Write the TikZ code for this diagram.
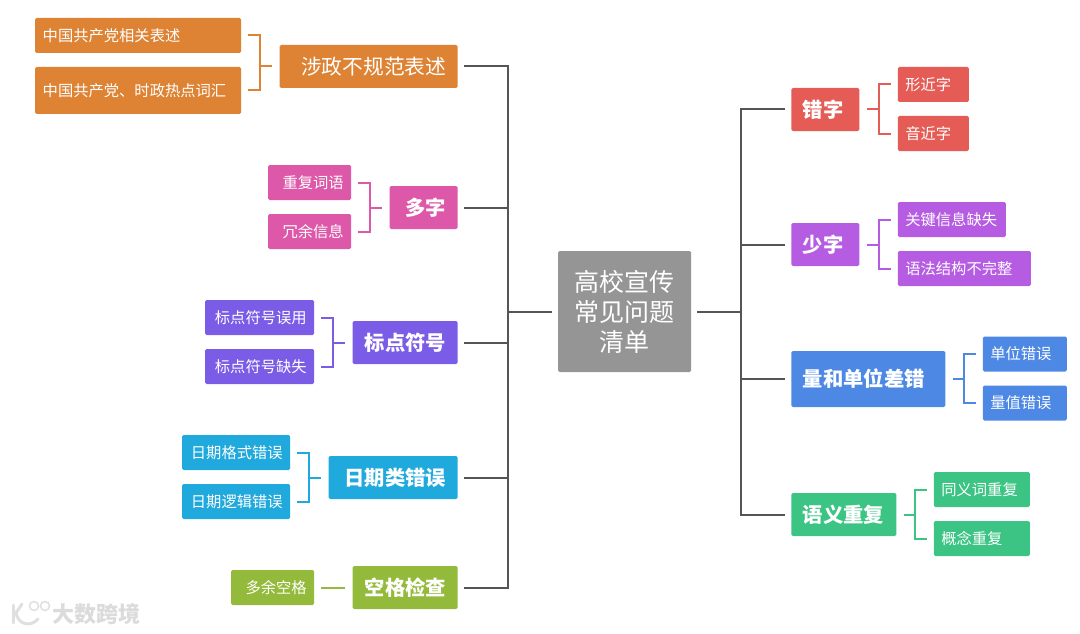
\documentclass[tikz,border=0pt]{standalone}
\usepackage{xcolor}
\usepackage{fontspec}
\setmainfont{Noto Sans CJK SC}
\definecolor{rootcolor}{RGB}{149, 149, 149}
\definecolor{linecolor}{RGB}{85, 85, 85}
\definecolor{orangecolor}{RGB}{221, 131, 51}
\definecolor{pinkcolor}{RGB}{221, 88, 168}
\definecolor{violetcolor}{RGB}{122, 92, 230}
\definecolor{skycolor}{RGB}{31, 169, 220}
\definecolor{greencolor}{RGB}{147, 186, 58}
\definecolor{redcolor}{RGB}{229, 91, 85}
\definecolor{purplecolor}{RGB}{182, 92, 227}
\definecolor{bluecolor}{RGB}{76, 136, 228}
\definecolor{tealcolor}{RGB}{60, 196, 132}
\usetikzlibrary{positioning, calc}

\begin{document}
\begin{tikzpicture}[
    node distance=38pt,
    box/.style={rectangle, rounded corners=1.5pt, text=white, inner ysep=0pt},
    rootbox/.style={box, fill=rootcolor, minimum width=133pt, minimum height=121pt, align=center,
        font=\fontsize{25}{30}\selectfont},
    lmain/.style={box, align=right, inner xsep=11.5pt, text width=#1-23pt, minimum height=43pt,
        font=\fontsize{20.3}{24}\selectfont\bfseries},
    rmain/.style={box, align=left, inner xsep=11.5pt, text width=#1-23pt, minimum height=43pt,
        font=\fontsize{20.3}{24}\selectfont\bfseries},
    lsub/.style={box, align=right, inner xsep=7.5pt, text width=#1-15pt, minimum height=35pt,
        font=\fontsize{15.3}{18}\selectfont},
    rsub/.style={box, align=left, inner xsep=7.5pt, text width=#1-15pt, minimum height=35pt,
        font=\fontsize{15.3}{18}\selectfont},
    link/.style={line width=2pt, draw=linecolor, shorten <=6pt, shorten >=6pt},
    bracket/.style={line width=2pt, shorten <=7pt, shorten >=7pt,
        to path={-| ($(\tikztostart)!.5!(\tikztotarget)$) |- (\tikztotarget)}}
]
    \useasboundingbox (0,0) rectangle (1080pt,-634pt);

    % Root node
    \node[rootbox] (root) at (624.5pt,-311.5pt) {高校宣传\\常见问题\\清单};

    % Left branches
    \node[lmain=178pt, fill=orangecolor, left=100pt of root, yshift=245pt,
          font=\fontsize{20.7}{24}\selectfont] (shezheng) {涉政不规范表述};
    \node[lmain=68pt, fill=pinkcolor, left=100pt of root, yshift=104pt] (duozi) {多字};
    \node[lmain=105pt, fill=violetcolor, left=100pt of root, yshift=-31pt] (biaodian) {标点符号};
    \node[lmain=129pt, fill=skycolor, left=100pt of root, yshift=-166pt] (riqi) {日期类错误};
    \node[lmain=105pt, fill=greencolor, left=100pt of root, yshift=-276pt] (kongge) {空格检查};

    % Right branches
    \node[rmain=68pt, fill=redcolor, right=100pt of root, yshift=202pt] (cuozi) {错字};
    \node[rmain=68pt, fill=purplecolor, right=100pt of root, yshift=67pt] (shaozi) {少字};
    \node[rmain=154pt, fill=bluecolor, minimum height=56pt, right=100pt of root, yshift=-67.5pt] (liang) {量和单位差错};
    \node[rmain=105pt, fill=tealcolor, right=100pt of root, yshift=-203pt] (yuyi) {语义重复};

    % Left leaves
    \node[lsub=206pt, fill=orangecolor, align=left, left=of shezheng, yshift=31pt] (shezheng1) {中国共产党相关表述};
    \node[lsub=206pt, fill=orangecolor, align=left, minimum height=47pt, left=of shezheng, yshift=-24pt] (shezheng2) {中国共产党、时政热点词汇};
    \node[lsub=83pt, fill=pinkcolor, left=of duozi, yshift=25pt] (duozi1) {重复词语};
    \node[lsub=83pt, fill=pinkcolor, left=of duozi, yshift=-24pt] (duozi2) {冗余信息};
    \node[lsub=109pt, fill=violetcolor, left=of biaodian, yshift=25pt] (biaodian1) {标点符号误用};
    \node[lsub=109pt, fill=violetcolor, left=of biaodian, yshift=-24pt] (biaodian2) {标点符号缺失};
    \node[lsub=108pt, fill=skycolor, left=of riqi, yshift=25pt] (riqi1) {日期格式错误};
    \node[lsub=108pt, fill=skycolor, left=of riqi, yshift=-24pt] (riqi2) {日期逻辑错误};
    \node[lsub=83pt, fill=greencolor, left=of kongge] (kongge1) {多余空格};

    % Right leaves
    \node[rsub=71pt, fill=redcolor, right=of cuozi, yshift=25pt] (cuozi1) {形近字};
    \node[rsub=71pt, fill=redcolor, right=of cuozi, yshift=-24pt] (cuozi2) {音近字};
    \node[rsub=108pt, fill=purplecolor, right=of shaozi, yshift=25pt] (shaozi1) {关键信息缺失};
    \node[rsub=133pt, fill=purplecolor, right=of shaozi, yshift=-24pt] (shaozi2) {语法结构不完整};
    \node[rsub=84pt, fill=bluecolor, right=37pt of liang, yshift=25pt] (liang1) {单位错误};
    \node[rsub=84pt, fill=bluecolor, right=37pt of liang, yshift=-24pt] (liang2) {量值错误};
    \node[rsub=96pt, fill=tealcolor, right=37pt of yuyi, yshift=25pt] (yuyi1) {同义词重复};
    \node[rsub=96pt, fill=tealcolor, right=37pt of yuyi, yshift=-24pt] (yuyi2) {概念重复};

    % Trunks
    \coordinate (lbus) at (508pt,0);
    \coordinate (rbus) at (741pt,0);
    \foreach \n in {shezheng, duozi, biaodian, riqi, kongge}
        \draw[link] (\n.east) -- (\n.east -| lbus) -- (lbus |- root.west) -- (root.west);
    \foreach \n in {cuozi, shaozi, liang, yuyi}
        \draw[link] (\n.west) -- (\n.west -| rbus) -- (rbus |- root.east) -- (root.east);

    % Brackets
    \draw[bracket, orangecolor] (shezheng1.east) to (shezheng.west);
    \draw[bracket, orangecolor] (shezheng2.east) to (shezheng.west);
    \draw[bracket, pinkcolor] (duozi1.east) to (duozi.west);
    \draw[bracket, pinkcolor] (duozi2.east) to (duozi.west);
    \draw[bracket, violetcolor] (biaodian1.east) to (biaodian.west);
    \draw[bracket, violetcolor] (biaodian2.east) to (biaodian.west);
    \draw[bracket, skycolor] (riqi1.east) to (riqi.west);
    \draw[bracket, skycolor] (riqi2.east) to (riqi.west);
    \draw[bracket, greencolor] (kongge1.east) to (kongge.west);
    \draw[bracket, redcolor] (cuozi1.west) to (cuozi.east);
    \draw[bracket, redcolor] (cuozi2.west) to (cuozi.east);
    \draw[bracket, purplecolor] (shaozi1.west) to (shaozi.east);
    \draw[bracket, purplecolor] (shaozi2.west) to (shaozi.east);
    \draw[bracket, bluecolor] (liang1.west) to (liang.east);
    \draw[bracket, bluecolor] (liang2.west) to (liang.east);
    \draw[bracket, tealcolor] (yuyi1.west) to (yuyi.east);
    \draw[bracket, tealcolor] (yuyi2.west) to (yuyi.east);

    % Watermark
    \node[gray!28, font=\fontsize{22}{24}\selectfont\bfseries, anchor=west, inner sep=0pt] (mark) at (52pt,-614pt) {大数跨境};
    \draw[gray!25, line width=3pt, line cap=round] (13pt,-605pt) -- (13pt,-623pt);
    \draw[gray!25, line width=3pt, line cap=round] (22pt,-604pt) -- (16pt,-613pt) .. controls (18pt,-624pt) and (30pt,-628pt) .. (38pt,-619pt);
    \draw[gray!25, line width=1.5pt] (34pt,-606pt) circle (4.5pt) (45pt,-606pt) circle (4.5pt);
\end{tikzpicture}
\end{document}
